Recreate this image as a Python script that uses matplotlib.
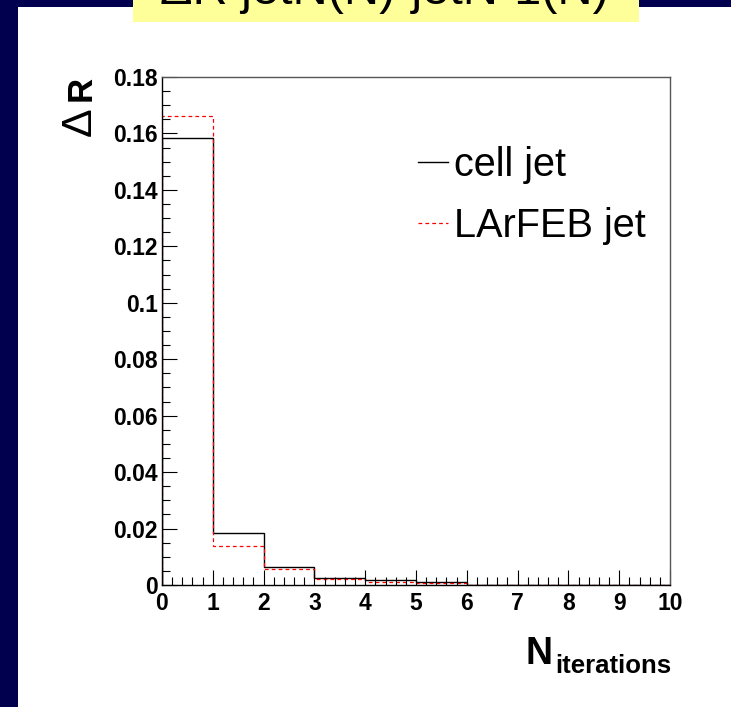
import matplotlib.pyplot as plt
from matplotlib.lines import Line2D
from matplotlib.patches import Rectangle
from matplotlib.ticker import MultipleLocator

W, H = 731, 707

n_edges = [0, 1, 2, 3, 4, 5, 6, 7, 8, 9, 10]
cell_jet = [0.1584, 0.0186, 0.0064, 0.0026, 0.0017, 0.0010, 0, 0, 0, 0]
larfeb_jet = [0.1662, 0.0139, 0.0055, 0.0021, 0.0012, 0.0008, 0, 0, 0, 0]
series_labels = ["cell jet", "LArFEB jet"]
title_text = "ΔR jetN(N)-jetN-1(N)"

plt.rcParams["font.family"] = ["Liberation Sans", "DejaVu Sans"]


def fx(px):
    return px / W


def fy(py):
    return 1 - py / H


fig = plt.figure(figsize=(W / 100, H / 100), dpi=100)
fig.patch.set_facecolor("#00004f")

# white slide area and yellow title strip, kept behind the axes
fig.add_artist(Rectangle((fx(18), 0), 1 - fx(18), fy(7),
                         transform=fig.transFigure, facecolor="white",
                         edgecolor="none", zorder=-10))
fig.add_artist(Rectangle((fx(133), fy(22)), fx(639) - fx(133), 1 - fy(22),
                         transform=fig.transFigure, facecolor="#ffff99",
                         edgecolor="none", zorder=-9))
fig.text(fx(384), fy(4), title_text, ha="center", va="baseline",
         fontsize=35, color="black")

ax = fig.add_axes([fx(162), fy(585), fx(670) - fx(162), fy(77) - fy(585)])
ax.patch.set_alpha(0)

ax.stairs(cell_jet, n_edges, baseline=0, color="black", linewidth=1.0)
ax.stairs(larfeb_jet, n_edges, baseline=0, color="#ff0000", linewidth=0.9,
          linestyle=(0, (3, 2.5)))

ax.set_xlim(0, 10)
ax.set_ylim(0, 0.18)

ax.xaxis.set_major_locator(MultipleLocator(1))
ax.xaxis.set_minor_locator(MultipleLocator(0.2))
ax.yaxis.set_major_locator(MultipleLocator(0.02))
ax.yaxis.set_minor_locator(MultipleLocator(0.005))
ax.yaxis.set_major_formatter(plt.FuncFormatter(
    lambda v, p: f"{v:.2f}".rstrip("0").rstrip(".") if v else "0"))

ax.tick_params(which="both", direction="in", top=False, right=False,
               width=0.8, color="black")
ax.tick_params(which="major", length=10.5, labelsize=16.5)
ax.tick_params(which="minor", length=5.5)
ax.tick_params(axis="y", which="major", pad=3)
ax.tick_params(axis="x", which="major", pad=5)
for lab in ax.get_xticklabels() + ax.get_yticklabels():
    lab.set_fontweight("bold")

for side in ["top", "right"]:
    ax.spines[side].set_color("#555555")
for side in ["left", "bottom"]:
    ax.spines[side].set_color("black")
for side in ax.spines:
    ax.spines[side].set_linewidth(1.0)

handles = [
    Line2D([], [], color="black", linewidth=1.0),
    Line2D([], [], color="#ff0000", linewidth=0.9, linestyle=(0, (3, 2.5))),
]
ax.legend(handles, series_labels, loc="upper left",
          bbox_to_anchor=(fx(418), fy(146)), bbox_transform=fig.transFigure,
          frameon=False, fontsize=28.5, handlelength=0.75, handletextpad=0.15,
          labelspacing=0.58, borderpad=0, borderaxespad=0)

# axis titles
fig.text(fx(553), fy(664), "N", ha="right", va="baseline",
         fontsize=27, fontweight="bold")
fig.text(fx(671), fy(673), "iterations", ha="right", va="baseline",
         fontsize=18.5, fontweight="bold")
fig.text(fx(91), fy(76), "R", rotation=90, rotation_mode="anchor",
         ha="right", va="baseline", fontsize=25, fontweight="bold")
fig.text(fx(91), fy(107), "Δ", rotation=90, rotation_mode="anchor",
         ha="right", va="baseline", fontsize=31)

fig.savefig("out.png", dpi=100, facecolor=fig.get_facecolor())
